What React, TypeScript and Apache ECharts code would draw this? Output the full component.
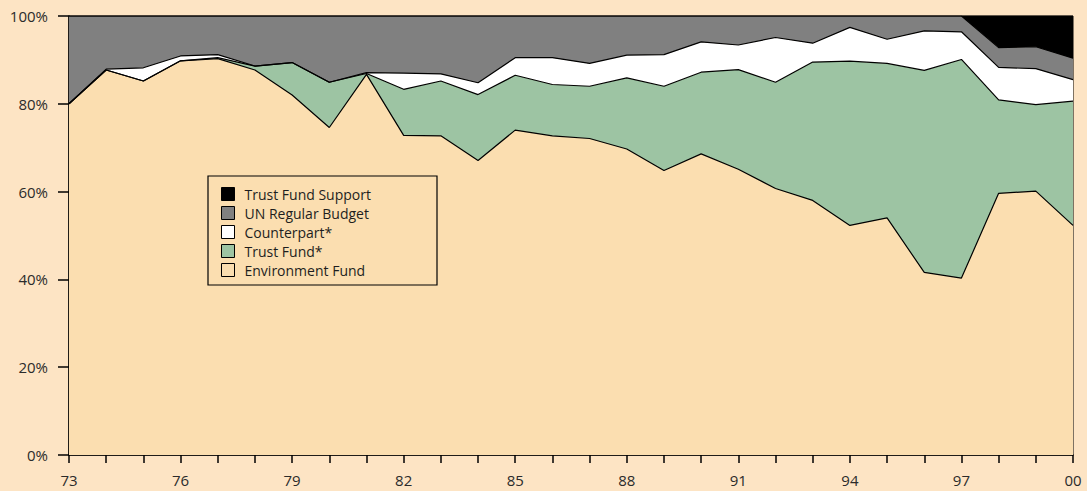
import React, { useEffect, useRef } from "react";
import * as echarts from "echarts";

const years = ["73","74","75","76","77","78","79","80","81","82","83","84","85","86","87","88","89","90","91","92","93","94","95","96","97","98","99","00"];
const environmentFund = [80.0,87.7,85.2,89.8,90.3,87.7,82.0,74.6,86.7,72.8,72.7,67.1,74.0,72.7,72.1,69.7,64.8,68.6,65.1,60.7,58.0,52.3,54.0,41.6,40.3,59.6,60.1,52.3];
const trustFund = [0,0,0,0,0.2,0.9,7.4,10.3,0.2,10.5,12.5,15.0,12.5,11.7,11.9,16.2,19.2,18.6,22.7,24.2,31.5,37.4,35.2,46.0,49.8,21.3,19.7,28.3];
const counterpart = [0,0.2,3.0,1.1,0.7,0,0,0,0.2,3.7,1.6,2.7,4.0,6.1,5.2,5.2,7.2,6.9,5.6,10.2,4.3,7.7,5.5,9.0,6.3,7.4,8.2,4.9];
const unRegularBudget = [20.0,12.1,11.8,9.1,8.8,11.4,10.6,15.1,12.9,13.0,13.2,15.2,9.5,9.5,10.8,8.9,8.8,5.9,6.6,4.9,6.2,2.6,5.3,3.4,3.6,4.5,5.0,4.9];
const trustFundSupport = [0,0,0,0,0,0,0,0,0,0,0,0,0,0,0,0,0,0,0,0,0,0,0,0,0,7.2,7.0,9.6];
const yTicks = [0, 20, 40, 60, 80, 100];

const seriesDefs = [
  { name: "Environment Fund", data: environmentFund, color: "#FBDEB0" },
  { name: "Trust Fund*", data: trustFund, color: "#9DC4A3" },
  { name: "Counterpart*", data: counterpart, color: "#FFFFFF" },
  { name: "UN Regular Budget", data: unRegularBudget, color: "#808080" },
  { name: "Trust Fund Support", data: trustFundSupport, color: "#000000" },
];

const FONT = "'Open Sans', 'Noto Sans', sans-serif";

export default function App() {
  const ref = useRef<HTMLDivElement>(null);
  useEffect(() => {
    if (!ref.current) return;
    const chart = echarts.init(ref.current, null, { renderer: "svg" });
    chart.setOption({
      animation: false,
      backgroundColor: "#FDE4C4",
      textStyle: { fontFamily: FONT },
      grid: {
        left: 69, right: 14, top: 16, bottom: 36,
        show: true, borderColor: "#000", borderWidth: 1,
        backgroundColor: "#FBDEB0",
      },
      xAxis: {
        type: "category",
        data: years,
        boundaryGap: false,
        axisLine: { lineStyle: { color: "#000", width: 1.5 } },
        axisTick: { show: true, interval: 0, length: 8, lineStyle: { color: "#000", width: 1.5 } },
        axisLabel: { interval: 2, margin: 17, color: "#2b2b2b", fontSize: 15, fontFamily: FONT },
        splitLine: { show: false },
      },
      yAxis: {
        type: "value",
        min: yTicks[0],
        max: yTicks[yTicks.length - 1],
        interval: 20,
        axisLine: { show: true, lineStyle: { color: "#000", width: 1.5 } },
        axisTick: { show: true, length: 11, lineStyle: { color: "#000", width: 1.5 } },
        axisLabel: { margin: 21, color: "#2b2b2b", fontSize: 15, fontFamily: FONT, formatter: "{value}%" },
        splitLine: { show: false },
      },
      legend: {
        orient: "vertical",
        left: 208,
        top: 177,
        padding: [10, 13, 10, 13],
        itemWidth: 13,
        itemHeight: 13,
        itemGap: 5,
        icon: "rect",
        z: 10,
        itemStyle: { borderColor: "#000", borderWidth: 1 },
        textStyle: { color: "#1e1e1e", fontSize: 14, fontFamily: FONT, padding: [0, 0, 0, 5] },
        data: ["Trust Fund Support", "UN Regular Budget", "Counterpart*", "Trust Fund*", "Environment Fund"],
        selectedMode: false,
      },
      graphic: [
        {
          type: "rect",
          z: 9,
          zlevel: 0,
          shape: { x: 208, y: 176, width: 229, height: 109 },
          style: { fill: "#FBDEB0", stroke: "#000", lineWidth: 1.2 },
        },
      ],
      series: seriesDefs.map((s) => ({
        name: s.name,
        type: "line",
        stack: "total",
        data: s.data,
        symbol: "none",
        showSymbol: false,
        color: s.color,
        itemStyle: { color: s.color, borderColor: "#000", borderWidth: 1 },
        lineStyle: { color: "#000", width: 1.2 },
        areaStyle: { color: s.color, opacity: 1 },
        emphasis: { disabled: true },
      })),
    });
    return () => chart.dispose();
  }, []);
  return (
    <div
      ref={ref}
      style={{ position: "absolute", left: 0, top: 0, width: 1087, height: 491 }}
    />
  );
}
